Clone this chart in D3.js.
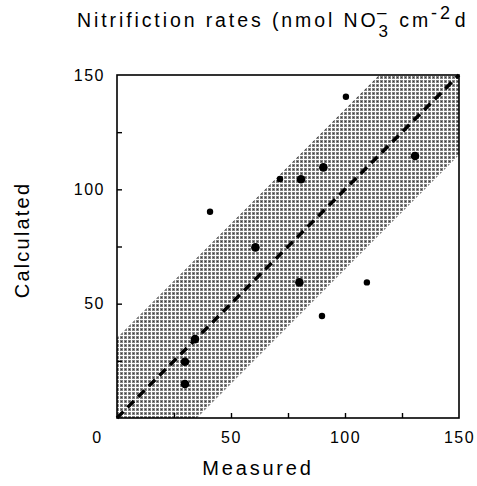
<!DOCTYPE html>
<html>
<head>
<meta charset="utf-8">
<script src="https://cdn.jsdelivr.net/npm/d3@7"></script>
<style>
  body { margin: 0; background: #fff; }
  svg { display: block; font-family: "Liberation Sans", Arial, sans-serif; }
</style>
</head>
<body>
<div id="chart"></div>
<script>
// measured vs calculated nitrification rates
var bigX = [80.7, 90.5, 130.7, 60.7, 80, 34.2, 29.8, 29.8];
var bigY = [104.4, 109.6, 114.6, 74.6, 59.3, 34.5, 24.6, 14.9];
var smallX = [40.8, 71.5, 100.4, 109.6, 89.9];
var smallY = [90.2, 104.5, 140.5, 59.3, 44.6];
var bandWidth = 35;           // +/- around the 1:1 line
var axisMax = 150;
var minorTicks = [25, 50, 75, 100, 125];
var xLabels = [0, 50, 100, 150];
var yLabels = [50, 100, 150];

var width = 477, height = 486;
var x0 = 117, x1 = 459, y0 = 418, y1 = 75;

var svg = d3.select("#chart").append("svg")
    .attr("width", width)
    .attr("height", height);

var xScale = d3.scaleLinear().domain([0, axisMax]).range([x0, x1]);
var yScale = d3.scaleLinear().domain([0, axisMax]).range([y0, y1]);

/* halftone-ish fill for the band */
var defs = svg.append("defs");
var pat = defs.append("pattern")
    .attr("id", "dots")
    .attr("width", 4).attr("height", 4)
    .attr("patternUnits", "userSpaceOnUse");
pat.append("rect").attr("width", 4).attr("height", 4).attr("fill", "#fff");
pat.append("rect").attr("width", 3).attr("height", 3).attr("fill", "#848484");
pat.append("rect").attr("x", 1).attr("y", 1).attr("width", 1).attr("height", 1).attr("fill", "#3a3a3a");

defs.append("clipPath").attr("id", "plotclip")
    .append("rect")
    .attr("x", x0).attr("y", y1)
    .attr("width", x1 - x0).attr("height", y0 - y1);

/* band polygon */
var band = [
    [0, bandWidth], [axisMax - bandWidth, axisMax], [axisMax, axisMax],
    [axisMax, axisMax - bandWidth], [bandWidth, 0], [0, 0]
];
svg.append("path")
    .attr("clip-path", "url(#plotclip)")
    .attr("d", d3.line().x(d => xScale(d[0])).y(d => yScale(d[1]))(band) + "Z")
    .attr("fill", "url(#dots)");

/* 1:1 dashed line */
svg.append("line")
    .attr("x1", xScale(0)).attr("y1", yScale(0))
    .attr("x2", xScale(axisMax)).attr("y2", yScale(axisMax))
    .attr("stroke", "#000")
    .attr("stroke-width", 3.5)
    .attr("stroke-dasharray", "9,6");

/* frame */
svg.append("rect")
    .attr("x", x0).attr("y", y1)
    .attr("width", x1 - x0).attr("height", y0 - y1)
    .attr("fill", "none")
    .attr("stroke", "#000")
    .attr("stroke-width", 1.6);

/* inward ticks */
var xTicks = svg.append("g")
    .attr("transform", `translate(0, ${y0})`)
    .call(d3.axisBottom(xScale).tickValues(minorTicks).tickSize(-5).tickFormat(""));
var yTicks = svg.append("g")
    .attr("transform", `translate(${x0}, 0)`)
    .call(d3.axisLeft(yScale).tickValues(minorTicks).tickSize(-5).tickFormat(""));
[xTicks, yTicks].forEach(function(g) {
    g.select(".domain").remove();
    g.selectAll("line").attr("stroke", "#000").attr("stroke-width", 1.4);
});

/* tick labels */
var xLab = svg.append("g")
    .attr("transform", `translate(0, ${y0})`)
    .call(d3.axisBottom(xScale).tickValues(xLabels).tickSize(0).tickPadding(14));
xLab.select(".domain").remove();
xLab.selectAll("text")
    .attr("font-size", 16)
    .attr("letter-spacing", 1.5)
    .attr("fill", "#000")
    .attr("font-family", "Liberation Sans, Arial, sans-serif")
    .attr("dx", d => d == 0 ? -20 : 0);

var yLab = svg.append("g")
    .attr("transform", `translate(${x0}, 0)`)
    .call(d3.axisLeft(yScale).tickValues(yLabels).tickSize(0).tickPadding(12));
yLab.select(".domain").remove();
yLab.selectAll("text")
    .attr("font-size", 16)
    .attr("letter-spacing", 1.5)
    .attr("fill", "#000")
    .attr("font-family", "Liberation Sans, Arial, sans-serif");

/* points */
svg.append("g").selectAll("circle")
    .data(d3.zip(bigX, bigY)).enter()
    .append("circle")
    .attr("cx", d => xScale(d[0]))
    .attr("cy", d => yScale(d[1]))
    .attr("r", 4.3)
    .attr("fill", "#000");
svg.append("g").selectAll("circle")
    .data(d3.zip(smallX, smallY)).enter()
    .append("circle")
    .attr("cx", d => xScale(d[0]))
    .attr("cy", d => yScale(d[1]))
    .attr("r", 3.2)
    .attr("fill", "#000");

/* axis titles */
svg.append("text")
    .attr("x", 258).attr("y", 475)
    .attr("text-anchor", "middle")
    .attr("font-size", 20)
    .attr("letter-spacing", 2.8)
    .text("Measured");

svg.append("text")
    .attr("transform", "translate(29, 240) rotate(-90)")
    .attr("text-anchor", "middle")
    .attr("font-size", 20)
    .attr("letter-spacing", 2.2)
    .text("Calculated");

/* title */
var title = svg.append("text")
    .attr("x", 77).attr("y", 27)
    .attr("font-size", 19.5)
    .attr("letter-spacing", 2.9);
title.append("tspan").text("Nitrifiction rates (nmol NO");
title.append("tspan").attr("dy", 10).attr("font-size", 17).text("3");
title.append("tspan").attr("dx", -14).attr("dy", -19).attr("font-size", 17).text("\u2013");
title.append("tspan").attr("dx", 10).attr("dy", 9).text("cm");
title.append("tspan").attr("dy", -8).attr("font-size", 18).text("-2");
title.append("tspan").attr("dx", 2).attr("dy", 8).text("d");
</script>
</body>
</html>
